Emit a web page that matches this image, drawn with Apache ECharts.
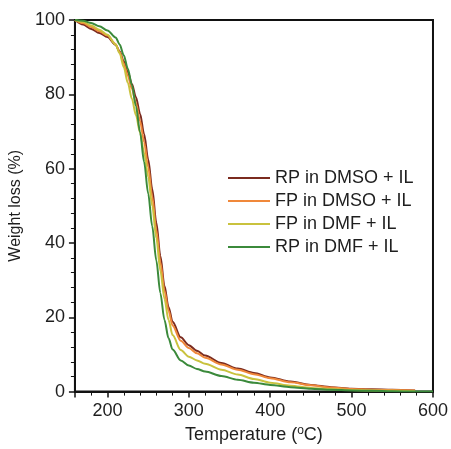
<!DOCTYPE html>
<html><head><meta charset="utf-8">
<script src="https://cdn.jsdelivr.net/npm/echarts@6/dist/echarts.min.js"></script>
<style>html,body{margin:0;padding:0;background:#fff;overflow:hidden}#c{width:451px;height:449px}</style>
</head><body><div id="c"></div>
<script>
var temps = [160,170,180,190,200,210,215,220,225,230,235,240,245,250,255,260,265,270,275,280,290,300,310,320,340,360,380,400,425,450,475,500,525,550,578,600];
var rpDMSO = [100,98.8,97.6,96.5,95.4,93.3,91.5,88.9,86,82.8,79.2,74.8,69.3,62.5,54.5,45.5,36.5,28.5,22.8,18.8,14.6,12.5,11,9.7,7.7,6.2,5,3.8,2.7,1.8,1.2,0.8,0.6,0.5,0.3,null];
var fpDMSO = [100,99.2,98.1,97,95.8,93.5,91.3,88.3,85,81.5,77.6,72.8,67.2,60.5,52.5,43.5,34.8,27.2,21.8,17.8,13.7,11.7,10.3,9.1,7.3,5.9,4.7,3.6,2.5,1.7,1.1,0.7,0.5,0.4,0.3,null];
var fpDMF = [100,99.5,98.5,97.4,96,93.4,91,87.3,83.1,78.8,74.4,69.7,64.3,57.8,50,41.3,32.5,25,19.3,15.2,11.2,9.4,8.4,7.5,5.9,4.6,3.4,2.4,1.6,1.0,0.7,0.4,0.3,0.2,0.1,null];
var rpDMF = [100,99.8,99.2,98.3,97.2,95.3,93.4,90.5,86.9,82.5,76.8,69.8,61.8,53.3,44.5,35.3,26.5,19.3,14.4,11.3,8.4,7,6.1,5.4,4.2,3.2,2.4,1.8,1.2,0.8,0.5,0.3,0.2,0.1,0,0];
var names = ['RP in DMSO + IL','FP in DMSO + IL','FP in DMF + IL','RP in DMF + IL'];
var colors = ['#7b2b1f','#f0883a','#c9c23e','#3b8a3b'];
var values = [rpDMSO, fpDMSO, fpDMF, rpDMF];

function pairs(v){ return temps.map(function(t,i){ return [t, v[i]]; }); }
var font = 'Liberation Sans, Arial, sans-serif';
var chart = echarts.init(document.getElementById('c'), null, {renderer:'canvas'});
var axisCol = '#111';
var txt = '#1e1e1e';
chart.setOption({
  animation:false,
  grid:{left:68,right:14,top:20,bottom:46,show:true,borderColor:axisCol,borderWidth:2,backgroundColor:'transparent'},
  legend:{
    orient:'vertical', left:228, top:169, padding:0, itemWidth:42, itemHeight:2, itemGap:5, icon:'rect',
    textStyle:{fontFamily:font,fontSize:18,color:txt,lineHeight:18},
    data:names
  },
  xAxis:{
    type:'value', min:160, max:600,
    axisLine:{lineStyle:{color:axisCol,width:2}},
    axisTick:{length:6,lineStyle:{color:axisCol,width:1.5}},
    minorTick:{show:true,splitNumber:5,length:4,lineStyle:{color:axisCol,width:1}},
    axisLabel:{showMinLabel:false,fontFamily:font,fontSize:18,color:txt,margin:10},
    splitLine:{show:false},
    name:'Temperature ({s|o}C)', nameLocation:'middle', nameGap:30,
    nameTextStyle:{fontFamily:font,fontSize:18,color:txt,rich:{s:{fontFamily:font,fontSize:12,color:txt,verticalAlign:'top',padding:[0,0,9,0]}}}
  },
  yAxis:{
    type:'value', min:0, max:100, interval:20,
    axisLine:{lineStyle:{color:axisCol,width:2}},
    axisTick:{length:6,lineStyle:{color:axisCol,width:1.5}},
    minorTick:{show:true,splitNumber:5,length:4,lineStyle:{color:axisCol,width:1}},
    axisLabel:{fontFamily:font,fontSize:18,color:txt,margin:10},
    splitLine:{show:false},
    name:'Weight loss (%)', nameLocation:'middle', nameGap:36,
    nameTextStyle:{fontFamily:font,fontSize:16,color:txt}
  },
  series: names.map(function(n,i){
    return {name:n,type:'line',data:pairs(values[i]),showSymbol:false,smooth:0.3,smoothMonotone:'x',
      lineStyle:{color:colors[i],width:2},itemStyle:{color:colors[i]},connectNulls:false};
  })
});
</script></body></html>
